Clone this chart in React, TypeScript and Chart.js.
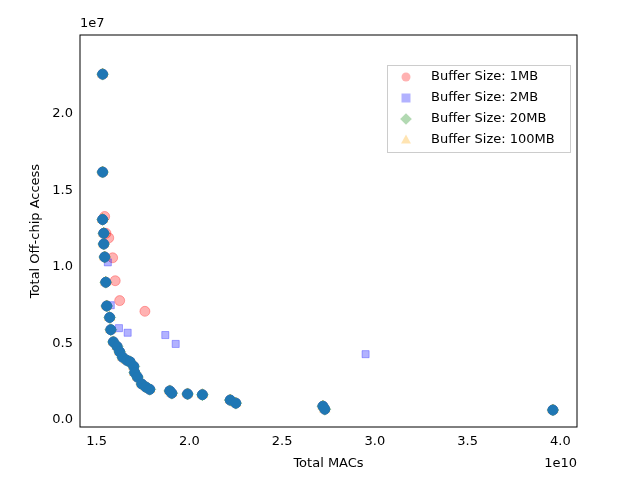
import React, { useEffect, useRef } from 'react';
import { Chart } from 'chart.js/auto';

// x in units of 1e10 MACs, y in units of 1e7 accesses
const frontX = [1.532, 1.532, 1.532, 1.538, 1.538, 1.543, 1.549, 1.554, 1.57, 1.576, 1.59, 1.61, 1.624, 1.64, 1.662, 1.68, 1.70, 1.705, 1.72, 1.743, 1.765, 1.786, 1.894, 1.905, 1.99, 2.07, 2.22, 2.25, 2.72, 2.73, 3.96];
const frontY = [2.26, 1.62, 1.31, 1.22, 1.15, 1.065, 0.90, 0.745, 0.67, 0.59, 0.51, 0.48, 0.445, 0.41, 0.39, 0.38, 0.35, 0.31, 0.28, 0.235, 0.215, 0.20, 0.19, 0.175, 0.17, 0.165, 0.13, 0.11, 0.09, 0.07, 0.065];
const mb1X = [1.543, 1.55, 1.565, 1.586, 1.60, 1.624, 1.76];
const mb1Y = [1.33, 1.22, 1.19, 1.06, 0.91, 0.78, 0.71];
const mb2X = [1.56, 1.576, 1.62, 1.667, 1.87, 1.926, 2.95];
const mb2Y = [1.03, 0.75, 0.60, 0.57, 0.555, 0.497, 0.43];
const xTicks = [1.5, 2.0, 2.5, 3.0, 3.5, 4.0];
const yTicks = [0, 0.5, 1.0, 1.5, 2.0];
const legendLabels = ['Buffer Size: 1MB', 'Buffer Size: 2MB', 'Buffer Size: 20MB', 'Buffer Size: 100MB'];
const legendColors = ['rgba(255,0,0,0.3)', 'rgba(0,0,255,0.3)', 'rgba(0,128,0,0.3)', 'rgba(255,165,0,0.3)'];
const legendShapes = ['circle', 'rect', 'rectRot', 'triangle'];

const pts = (xs: number[], ys: number[]) => xs.map((x, i) => ({ x, y: ys[i] }));

function marker(ctx: CanvasRenderingContext2D, shape: string, x: number, y: number, r: number) {
  ctx.beginPath();
  if (shape === 'circle') ctx.arc(x, y, r, 0, Math.PI * 2);
  else if (shape === 'rect') ctx.rect(x - r, y - r, 2 * r, 2 * r);
  else if (shape === 'rectRot') { ctx.moveTo(x, y - r * 1.3); ctx.lineTo(x + r * 1.3, y); ctx.lineTo(x, y + r * 1.3); ctx.lineTo(x - r * 1.3, y); ctx.closePath(); }
  else { ctx.moveTo(x, y - r * 1.2); ctx.lineTo(x + r * 1.1, y + r * 0.8); ctx.lineTo(x - r * 1.1, y + r * 0.8); ctx.closePath(); }
  ctx.fill();
}

export default function App() {
  const canvasRef = useRef<HTMLCanvasElement>(null);
  const chartRef = useRef<Chart | null>(null);

  useEffect(() => {
    const el = canvasRef.current;
    if (!el) return;
    const font = { family: 'DejaVu Sans', size: 13 };
    const overlay = {
      id: 'overlay',
      afterDraw(chart: any) {
        const { ctx, chartArea: a } = chart;
        ctx.save();
        ctx.strokeStyle = '#000';
        ctx.lineWidth = 1;
        ctx.strokeRect(a.left, a.top, a.right - a.left, a.bottom - a.top);
        // legend
        const lx = 387, ly = 65, lw = 183, lh = 87;
        ctx.fillStyle = 'rgba(255,255,255,0.8)';
        ctx.fillRect(lx, ly, lw, lh);
        ctx.strokeStyle = '#ccc';
        ctx.strokeRect(lx + 0.5, ly + 0.5, lw, lh);
        ctx.font = '13px DejaVu Sans';
        ctx.textBaseline = 'middle';
        legendLabels.forEach((t, i) => {
          const cy = ly + 12 + i * 21;
          ctx.fillStyle = legendColors[i];
          marker(ctx, legendShapes[i], lx + 19, cy, 4.5);
          ctx.fillStyle = '#000';
          ctx.textAlign = 'left';
          ctx.fillText(t, lx + 44, cy);
        });
        ctx.textBaseline = 'alphabetic';
        ctx.fillStyle = '#000';
        ctx.textAlign = 'left';
        ctx.fillText('1e7', a.left, a.top - 8);
        ctx.textAlign = 'right';
        ctx.fillText('1e10', a.right, a.bottom + 40);
        ctx.textAlign = 'center';
        ctx.fillText('Total MACs', (a.left + a.right) / 2, a.bottom + 40);
        ctx.translate(39, (a.top + a.bottom) / 2);
        ctx.rotate(-Math.PI / 2);
        ctx.fillText('Total Off-chip Access', 0, 0);
        ctx.restore();
      },
    };
    const frontData = pts(frontX, frontY);
    chartRef.current = new Chart(el, {
      type: 'scatter',
      data: {
        datasets: [
          { label: 'front', order: 0, data: frontData, pointStyle: 'circle', pointRadius: 5, backgroundColor: '#1f77b4', borderColor: '#1f77b4' },
          { label: 'Buffer Size: 100MB', order: 1, data: frontData, pointStyle: 'triangle', pointRadius: 6, backgroundColor: legendColors[3], borderColor: legendColors[3] },
          { label: 'Buffer Size: 20MB', order: 2, data: frontData, pointStyle: 'rectRot', pointRadius: 6, backgroundColor: legendColors[2], borderColor: legendColors[2] },
          { label: 'Buffer Size: 2MB', order: 3, data: [...pts(mb2X, mb2Y), ...frontData], pointStyle: 'rect', pointRadius: 5, backgroundColor: legendColors[1], borderColor: legendColors[1] },
          { label: 'Buffer Size: 1MB', order: 4, data: [...pts(mb1X, mb1Y), ...frontData], pointStyle: 'circle', pointRadius: 5, backgroundColor: legendColors[0], borderColor: legendColors[0] },
        ],
      },
      options: {
        animation: false,
        responsive: false,
        layout: { padding: { top: 35, right: 63, left: 0, bottom: 0 } },
        plugins: { tooltip: { enabled: false }, legend: { display: false } },
        scales: {
          x: {
            min: 1.41, max: 4.09,
            afterBuildTicks: (s: any) => { s.ticks = xTicks.map((v) => ({ value: v })); },
            afterFit: (s: any) => { s.height = 53; },
            grid: { display: false, drawTicks: true, tickLength: 4, tickColor: '#000' },
            border: { display: false },
            ticks: { font, color: '#000', callback: (v: any) => Number(v).toFixed(1) },
          },
          y: {
            min: -0.046, max: 2.516,
            afterBuildTicks: (s: any) => { s.ticks = yTicks.map((v) => ({ value: v })); },
            afterFit: (s: any) => { s.width = 80; },
            grid: { display: false, drawTicks: true, tickLength: 4, tickColor: '#000' },
            border: { display: false },
            ticks: { font, color: '#000', callback: (v: any) => Number(v).toFixed(1) },
          },
        },
      },
      plugins: [overlay],
    });
    return () => {
      chartRef.current?.destroy();
      chartRef.current = null;
    };
  }, []);

  return (
    <div style={{ width: 640, height: 480, margin: -8 }}>
      <canvas ref={canvasRef} width={640} height={480} />
    </div>
  );
}
